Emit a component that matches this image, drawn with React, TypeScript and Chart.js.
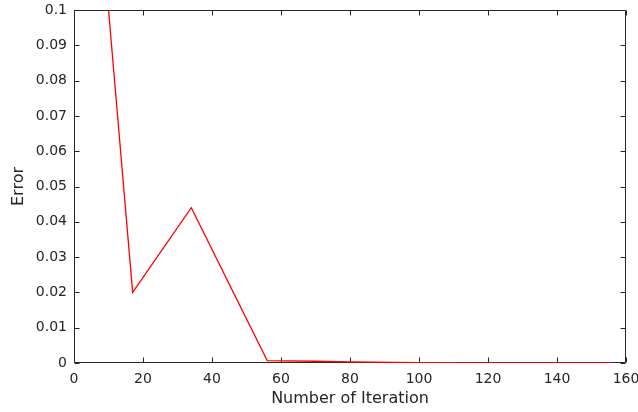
import React, { useEffect, useRef } from "react";
import { Chart, registerables } from "chart.js";

Chart.register(...registerables);

// Error of the solver at each recorded iteration
const iterations = [8, 17, 34, 56, 70, 80, 100, 120, 140, 156];
const errors = [0.123, 0.02, 0.044, 0.0007, 0.0005, 0.0003, 0.0001, 0.00005, 0.00002, 0.00001];

const xTicks = [0, 20, 40, 60, 80, 100, 120, 140, 160];
const yTicks = [0, 0.01, 0.02, 0.03, 0.04, 0.05, 0.06, 0.07, 0.08, 0.09, 0.1];

const AXIS_COLOR = "#262626";
const FONT = "'DejaVu Sans', sans-serif";

// Draws the box around the plot with inward-pointing tick marks on all four sides,
// underneath the data line so the curve stays visible along the axis.
const boxPlugin = {
  id: "boxFrame",
  beforeDatasetsDraw(chart: any) {
    const { ctx, chartArea, scales } = chart;
    const { left, right, top, bottom } = chartArea;
    const L = Math.round(left) + 0.5;
    const R = Math.round(right) - 0.5;
    const T = Math.round(top) + 0.5;
    const B = Math.round(bottom) - 0.5;
    const len = 5;
    ctx.save();
    ctx.strokeStyle = AXIS_COLOR;
    ctx.lineWidth = 1;
    ctx.beginPath();
    ctx.rect(L, T, R - L, B - T);
    scales.x.ticks.forEach((t: any) => {
      const px = Math.round(scales.x.getPixelForValue(t.value)) + 0.5;
      ctx.moveTo(px, B);
      ctx.lineTo(px, B - len);
      ctx.moveTo(px, T);
      ctx.lineTo(px, T + len);
    });
    scales.y.ticks.forEach((t: any) => {
      const py = Math.round(scales.y.getPixelForValue(t.value)) + 0.5;
      ctx.moveTo(L, py);
      ctx.lineTo(L + len, py);
      ctx.moveTo(R, py);
      ctx.lineTo(R - len, py);
    });
    ctx.stroke();
    ctx.restore();
  },
};

export default function App() {
  const canvasRef = useRef<HTMLCanvasElement>(null);

  useEffect(() => {
    if (!canvasRef.current) return;
    const points = iterations.map((x, i) => ({ x, y: errors[i] }));
    const chart = new Chart(canvasRef.current, {
      type: "line",
      data: {
        datasets: [
          {
            data: points,
            borderColor: "#ff0000",
            borderWidth: 1.3,
            pointRadius: 0,
            tension: 0,
            fill: false,
          },
        ],
      },
      options: {
        responsive: false,
        animation: false,
        events: [],
        layout: { padding: { top: 10, right: 12, left: 0, bottom: 0 } },
        plugins: {
          legend: { display: false },
          tooltip: { enabled: false },
        },
        scales: {
          x: {
            type: "linear",
            min: 0,
            max: 160,
            afterBuildTicks: (scale: any) => {
              scale.ticks = xTicks.map((v) => ({ value: v }));
            },
            afterFit: (scale: any) => {
              scale.height = 49;
              scale.paddingLeft = 0;
              scale.paddingRight = 0;
            },
            grid: { display: false, drawTicks: false },
            border: { display: false },
            ticks: {
              padding: 8,
              color: AXIS_COLOR,
              font: { family: FONT, size: 14 },
              maxRotation: 0,
              autoSkip: false,
            },
            title: {
              display: true,
              text: "Number of Iteration",
              color: AXIS_COLOR,
              font: { family: FONT, size: 16 },
              padding: { top: 0, bottom: 4 },
            },
          },
          y: {
            type: "linear",
            min: 0,
            max: 0.1,
            afterBuildTicks: (scale: any) => {
              scale.ticks = yTicks.map((v) => ({ value: v }));
            },
            afterFit: (scale: any) => {
              scale.width = 74;
              scale.paddingTop = 0;
              scale.paddingBottom = 0;
            },
            grid: { display: false, drawTicks: false },
            border: { display: false },
            ticks: {
              padding: 7,
              color: AXIS_COLOR,
              font: { family: FONT, size: 14 },
              autoSkip: false,
              callback: (v: any) => String(Number(Number(v).toFixed(2))),
            },
            title: {
              display: true,
              text: "Error",
              color: AXIS_COLOR,
              font: { family: FONT, size: 16 },
              padding: { top: 9, bottom: 0 },
            },
          },
        },
      },
      plugins: [boxPlugin],
    });
    return () => chart.destroy();
  }, []);

  return (
    <div style={{ position: "fixed", left: 0, top: 0, width: 638, height: 412, background: "#fff" }}>
      <canvas ref={canvasRef} width={638} height={412} style={{ display: "block" }} />
    </div>
  );
}
